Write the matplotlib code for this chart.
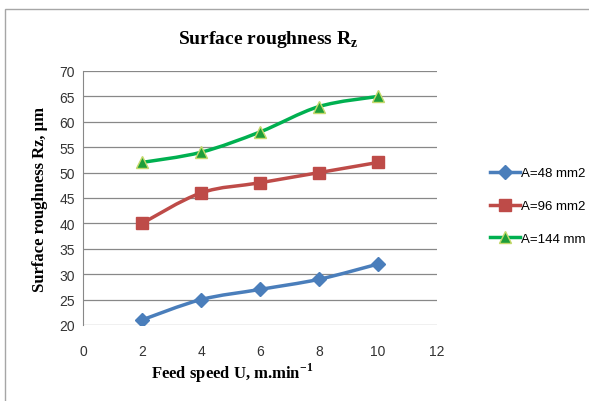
import numpy as np
import matplotlib.pyplot as plt
from matplotlib.path import Path
from matplotlib.patches import PathPatch, Rectangle
from matplotlib.lines import Line2D

# ───────── DATOS ─────────
feed = [2, 4, 6, 8, 10]
rz_48 = [21, 25, 27, 29, 32]
rz_96 = [40, 46, 48, 50, 52]
rz_144 = [52, 54, 58, 63, 65]
labels = ['A=48 mm2', 'A=96 mm2', 'A=144 mm']

series = [
    (rz_48, '#4A7EBB', 'D', '#4A7EBB', '#4A7EBB', 7),
    (rz_96, '#BE4B48', 's', '#BE4B48', '#BE4B48', 8),
    (rz_144, '#00B050', '^', '#1E9E3A', '#C5D96B', 9),
]

def smooth_path(x, y, t=1/6):
    # curva tipo Excel: Bezier cúbica por los puntos (Catmull-Rom)
    pts = np.column_stack([x, y]).astype(float)
    verts = [pts[0]]
    codes = [Path.MOVETO]
    n = len(pts)
    for i in range(n - 1):
        p0 = pts[i - 1] if i > 0 else pts[i]
        p1, p2 = pts[i], pts[i + 1]
        p3 = pts[i + 2] if i + 2 < n else pts[i + 1]
        c1 = p1 + (p2 - p0) * t
        c2 = p2 - (p3 - p1) * t
        verts += [c1, c2, p2]
        codes += [Path.CURVE4] * 3
    return Path(verts, codes)

fig = plt.figure(figsize=(5.89, 4.02), dpi=100)
fig.patches.append(Rectangle((5/589, -0.1), 1.2, 1.1 - 10/402,
                             transform=fig.transFigure, fill=False,
                             edgecolor='#A6A6A6', lw=1.0))

ax = fig.add_axes([83/589, 76/402, 354/589, 254/402])
handles = []
for (vals, col, mk, mfc, mec, ms), lab in zip(series, labels):
    ax.add_patch(PathPatch(smooth_path(feed, vals), fill=False,
                           edgecolor=col, lw=2.5, zorder=3,
                           capstyle='round', joinstyle='round'))
    ax.plot(feed, vals, ls='none', marker=mk, ms=ms, mfc=mfc, mec=mec,
            mew=1, zorder=4)
    handles.append(Line2D([], [], color=col, lw=2.5, marker=mk, ms=ms,
                          mfc=mfc, mec=mec, mew=1))

ax.set_xlim(0, 12)
ax.set_ylim(20, 70)
ax.set_xticks(range(0, 13, 2))
ax.set_yticks(range(20, 71, 5))
ax.grid(axis='y', color='#888888', lw=0.9)
ax.set_axisbelow(True)
for s in ['top', 'right', 'bottom']:
    ax.spines[s].set_visible(False)
ax.spines['left'].set_color('#888888')
ax.tick_params(length=0, labelsize=10, labelcolor='#333333')
ax.tick_params(axis='x', pad=14)
ax.tick_params(axis='y', pad=6)
for lbl in ax.get_xticklabels() + ax.get_yticklabels():
    lbl.set_family('Liberation Sans')

serif = 'Liberation Serif'
fig.text(268/589, 1 - 40/402, r'Surface roughness R$_\mathregular{z}$',
         ha='center', va='center', family=serif, weight='bold', fontsize=14)
fig.text(232/589, 1 - 373/402, r'Feed speed U, m.min$^\mathregular{-1}$',
         ha='center', va='center', family=serif, weight='bold', fontsize=12)
ax.set_ylabel('Surface roughness Rz, µm', family=serif, weight='bold',
              fontsize=12, labelpad=8)

fig.legend(handles, labels, loc='center left',
           bbox_to_anchor=(483/589, 1 - 207/402), borderpad=0,
           frameon=False, prop={'family': 'Liberation Sans', 'size': 9.5},
           handlelength=2.3, handletextpad=0.1, labelspacing=1.55)

fig.savefig('out.png', dpi=100)
